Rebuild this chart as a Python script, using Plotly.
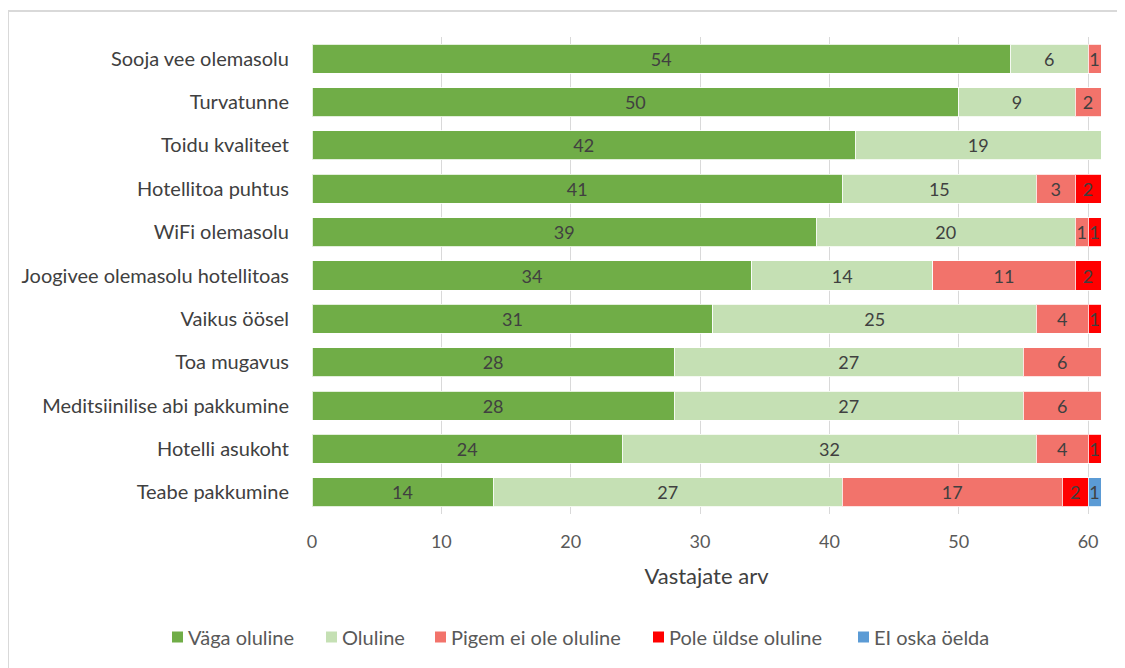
import plotly.graph_objects as go

categories = ["Sooja vee olemasolu", "Turvatunne", "Toidu kvaliteet", "Hotellitoa puhtus",
              "WiFi olemasolu", "Joogivee olemasolu hotellitoas", "Vaikus öösel", "Toa mugavus",
              "Meditsiinilise abi pakkumine", "Hotelli asukoht", "Teabe pakkumine"]
series_names = ["Väga oluline", "Oluline", "Pigem ei ole oluline", "Pole üldse oluline", "EI oska öelda"]
vaga_oluline = [54, 50, 42, 41, 39, 34, 31, 28, 28, 24, 14]
oluline = [6, 9, 19, 15, 20, 14, 25, 27, 27, 32, 27]
pigem_ei = [1, 2, 0, 3, 1, 11, 4, 6, 6, 4, 17]
pole_uldse = [0, 0, 0, 2, 1, 2, 1, 0, 0, 1, 2]
ei_oska = [0, 0, 0, 0, 0, 0, 0, 0, 0, 0, 1]
x_ticks = [0, 10, 20, 30, 40, 50, 60]

colors = ["#70AD47", "#C5E0B4", "#F2736B", "#FF0000", "#5B9BD5"]
all_series = [vaga_oluline, oluline, pigem_ei, pole_uldse, ei_oska]

FONT = "Lato"
TXT = "#404040"

fig = go.Figure()
for name, vals, col in zip(series_names, all_series, colors):
    fig.add_trace(go.Bar(
        y=categories, x=vals, name=name, orientation="h", showlegend=False,
        marker=dict(color=col, line=dict(color="rgba(255,255,255,0.8)", width=1)),
        text=[str(v) if v else "" for v in vals],
        textposition="inside", insidetextanchor="middle",
        textfont=dict(family=FONT, size=18, color=TXT),
        constraintext="none", cliponaxis=False,
    ))

# page body has an 8px margin; work in screenshot coordinates and shift
OFF = 8
W, H = 1125 - OFF, 668 - OFF
PL, PR, PT, PB = 312, 1101, 37, 514          # plot area in screenshot pixels
L, R, T, B = PL - OFF, W - (PR - OFF), PT - OFF, H - (PB - OFF)
pw, ph = PR - PL, PB - PT

def px(xs):
    return (xs - PL) / pw

def py(ys):
    return (PB - ys) / ph

# legend drawn as swatches + text (left edge of each swatch, screenshot px)
legend_left = [172, 326, 435, 653, 858]
legend_y = 637
sw = 11

shapes = [
    dict(type="line", xref="paper", yref="paper", x0=px(8), x1=px(8), y0=py(720), y1=py(11),
         line=dict(color="#D9D9D9", width=2)),
    dict(type="line", xref="paper", yref="paper", x0=px(8), x1=px(1200), y0=py(11), y1=py(11),
         line=dict(color="#D9D9D9", width=2)),
]
annotations = []
for name, col, lx in zip(series_names, colors, legend_left):
    shapes.append(dict(type="rect", xref="paper", yref="paper",
                       x0=px(lx), x1=px(lx + sw), y0=py(legend_y + sw / 2), y1=py(legend_y - sw / 2),
                       fillcolor=col, line=dict(width=0)))
    annotations.append(dict(text=name, xref="paper", yref="paper", x=px(lx + sw + 3), y=py(legend_y),
                            xanchor="left", yanchor="middle", showarrow=False,
                            font=dict(family=FONT, size=20, color="#595959")))

fig.update_layout(
    barmode="stack", bargap=0.33,
    width=W, height=H,
    margin=dict(l=L, r=R, t=T, b=B, autoexpand=False),
    paper_bgcolor="white", plot_bgcolor="white",
    font=dict(family=FONT, size=18, color=TXT),
    uniformtext=dict(minsize=18, mode="show"),
    showlegend=False,
    xaxis=dict(range=[0, 61], tickvals=x_ticks, showgrid=True, gridcolor="#D9D9D9", gridwidth=1,
               zeroline=False, showline=False, ticks="", ticklabelstandoff=15,
               tickfont=dict(size=18, color="#595959"),
               title=dict(text="Vastajate arv", standoff=17, font=dict(size=22, color="#404040"))),
    yaxis=dict(autorange="reversed", showgrid=False, zeroline=False, showline=False, ticks="",
               ticklabelstandoff=22, tickfont=dict(size=20, color="#404040")),
    shapes=shapes,
    annotations=annotations,
)

fig.write_html("out.html")
